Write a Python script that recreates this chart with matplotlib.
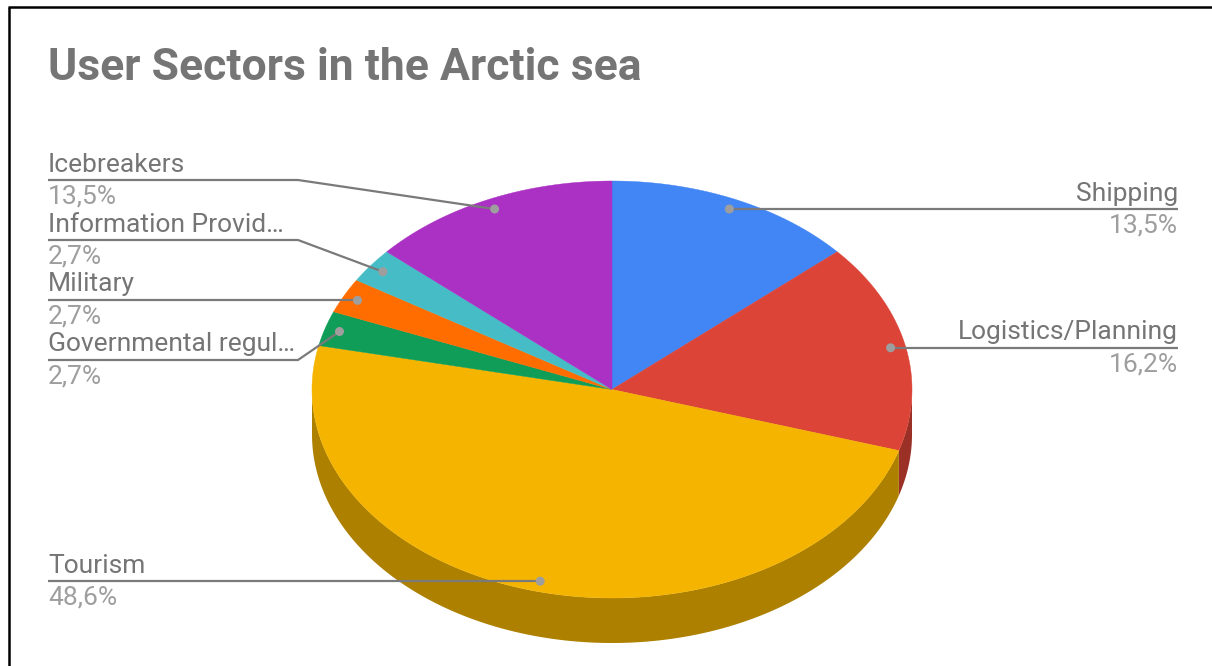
import numpy as np
import matplotlib
matplotlib.use('Agg')
import matplotlib.pyplot as plt
from matplotlib.patches import Polygon, Circle

# ---- data ----
categories = ['Shipping', 'Logistics/Planning', 'Tourism', 'Governmental regul…',
              'Military', 'Information Provid…', 'Icebreakers']
values = [5, 6, 18, 1, 1, 1, 5]
colors = ['#4285F4', '#DB4437', '#F4B400', '#0F9D58', '#FF6D00', '#46BDC6', '#AB30C4']
title = 'User Sectors in the Arctic sea'

# ---- style / layout ----
W, H = 1212, 666
cx, cy, rx, ry, depth = 612, 389.5, 300, 208.5, 45
side_factor = 0.71
name_color = '#757575'
pct_color = '#9E9E9E'
line_color = '#7a7a7a'
dot_color = '#9E9E9E'
FS = 19
left_line_y = {'Icebreakers': 180, 'Information Provid…': 240, 'Military': 300,
               'Governmental regul…': 360}
right_x = 1178
left_x = 48
knee_x = 298

plt.rcParams['font.family'] = ['Roboto', 'DejaVu Sans']
fig = plt.figure(figsize=(W / 100, H / 100), dpi=100)
ax = fig.add_axes([0, 0, 1, 1])
ax.set_xlim(0, W)
ax.set_ylim(H, 0)
ax.axis('off')

def pt(theta_deg, f=1.0, dy=0.0):
    t = np.radians(theta_deg)
    return cx + f * rx * np.sin(t), cy - f * ry * np.cos(t) + dy

total = sum(values)
fracs = [v / total for v in values]
starts = np.concatenate([[0], np.cumsum(fracs)[:-1]]) * 360
ends = np.cumsum(fracs) * 360

def darken(c, k):
    r, g, b = matplotlib.colors.to_rgb(c)
    return (r * k, g * k, b * k)

# sides
for s, e, c in zip(starts, ends, colors):
    a0, a1 = max(s, 90), min(e, 270)
    if a1 > a0:
        th = np.linspace(a0, a1, 200)
        top = np.array([pt(t) for t in th])
        bot = np.array([pt(t, dy=depth) for t in th])[::-1]
        ax.add_patch(Polygon(np.vstack([top, bot]), closed=True,
                             facecolor=darken(c, side_factor), edgecolor='none'))

# top faces
for s, e, c in zip(starts, ends, colors):
    th = np.linspace(s, e, 300)
    arc = np.array([pt(t) for t in th])
    poly = np.vstack([[cx, cy], arc])
    ax.add_patch(Polygon(poly, closed=True, facecolor=c, edgecolor=c, linewidth=0.3))

# labels
for name, s, e, fr in zip(categories, starts, ends, fracs):
    mid = (s + e) / 2
    dx, dy_ = pt(mid, 0.95)
    pct = f'{fr * 100:.1f}%'.replace('.', ',')
    if mid < 180:
        ly = dy_
        ax.plot([dx, right_x], [ly, ly], color=line_color, lw=1.6, solid_capstyle='butt', zorder=3)
        ax.text(right_x, ly - 8.5, name, ha='right', va='baseline', fontsize=FS, color=name_color)
        ax.text(right_x, ly + 23.5, pct, ha='right', va='baseline', fontsize=FS, color=pct_color)
    else:
        ly = left_line_y.get(name, dy_)
        if abs(ly - dy_) < 1:
            xs, ys = [left_x, dx], [ly, ly]
        else:
            xs, ys = [left_x, knee_x, dx], [ly, ly, dy_]
        ax.plot(xs, ys, color=line_color, lw=1.6, solid_capstyle='butt', zorder=3)
        ax.text(left_x, ly - 8.5, name, ha='left', va='baseline', fontsize=FS, color=name_color)
        ax.text(left_x, ly + 23.5, pct, ha='left', va='baseline', fontsize=FS, color=pct_color)
    ax.add_patch(Circle((dx, dy_), 4.5, facecolor=dot_color, edgecolor='none', zorder=4))

# title
ax.text(48, 80, title, ha='left', va='baseline', fontsize=32, fontweight='bold', color='#757575')

# frame lines (top and left)
ax.plot([8, W], [7, 7], color='black', lw=1.8, solid_capstyle='butt')
ax.plot([9, 9], [7, H], color='black', lw=1.8, solid_capstyle='butt')

fig.savefig('out.png', dpi=100)
